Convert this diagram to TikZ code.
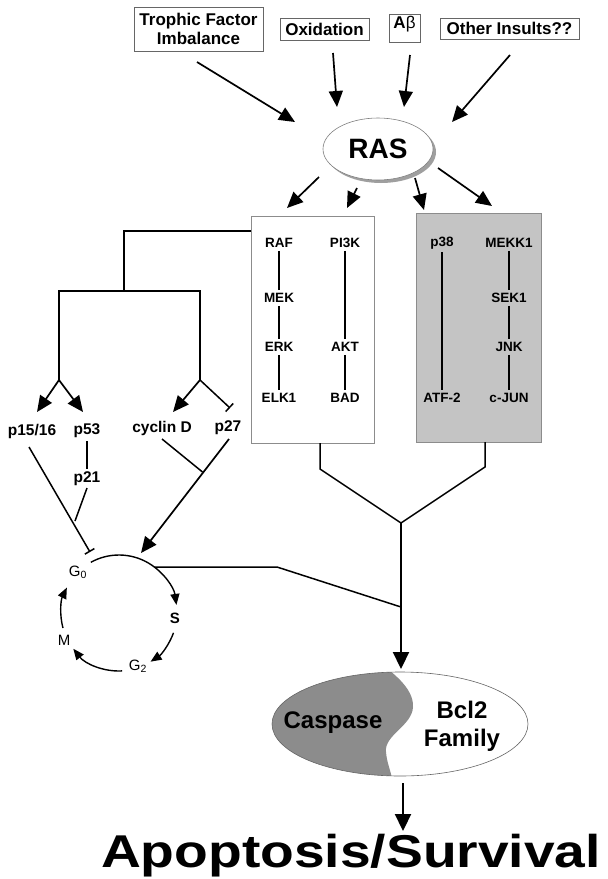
\documentclass[tikz,border=0pt]{standalone}
\usepackage{fontspec}
\usepackage{graphicx}
\setmainfont{Liberation Sans}
\usetikzlibrary{arrows.meta,shadows,shapes.geometric,calc}
\begin{document}
\begin{tikzpicture}[x=1pt,y=-1pt,
 every node/.style={inner sep=0pt},
 topbox/.style={draw=black!60, line width=0.8pt, font=\bfseries\fontsize{17}{19}\selectfont, align=center},
 klbl/.style={font=\bfseries\fontsize{13.5}{15}\selectfont, inner sep=3pt},
 clbl/.style={font=\bfseries\fontsize{15.5}{17}\selectfont, inner sep=3pt},
 cyc/.style={font=\fontsize{15}{17}\selectfont},
 bigarr/.style={line width=1.7pt, -{Triangle[length=16pt,width=14pt]}},
 ln/.style={line width=1.5pt},
 kln/.style={line width=1.4pt},
 cycarr/.style={line width=1.4pt, -{Triangle[length=11pt,width=9pt]}},
 inh/.style={line width=1.5pt, -{Bar[width=11pt,line width=1.5pt]}},
]
\useasboundingbox (0,0) rectangle (608,879);
\fill[white] (0,0) rectangle (608,879);

% top boxes
\node[topbox, minimum width=129pt, minimum height=44pt] (tfi) at (198.5,29) {Trophic Factor\\Imbalance};
\node[topbox, minimum width=89pt, minimum height=22pt] (oxi) at (324.5,29) {Oxidation};
\node[topbox, minimum width=31pt, minimum height=28pt] (abeta) at (404.5,28) {};
\node[font=\bfseries\fontsize{17}{19}\selectfont] (abetat) at (404.5,24) {A{\mdseries β}};
\node[topbox, minimum width=139pt, minimum height=21pt] (oth) at (509.5,28.5) {Other Insults??};

% RAS
\node[ellipse, draw=black!50, line width=0.6pt, fill=white, minimum width=110pt, minimum height=62pt,
  font=\bfseries\fontsize{28}{30}\selectfont,
  drop shadow={shadow xshift=3pt, shadow yshift=-3pt, fill=black!75}] (ras) at (378,149) {RAS};

\coordinate (i1s) at (197,62);  \coordinate (i1e) at (295,122);
\coordinate (i2s) at (333,53);  \coordinate (i2e) at (337,107);
\coordinate (i3s) at (410,55);  \coordinate (i3e) at (404,107);
\coordinate (i4s) at (510,55);  \coordinate (i4e) at (452,122);
\draw[bigarr] (i1s) -- (i1e);
\draw[bigarr] (i2s) -- (i2e);
\draw[bigarr] (i3s) -- (i3e);
\draw[bigarr] (i4s) -- (i4e);

\coordinate (o1s) at (319,177); \coordinate (o1e) at (287,208);
\coordinate (o2s) at (357,188); \coordinate (o2e) at (347,208);
\coordinate (o3s) at (415,178); \coordinate (o3e) at (424,210);
\coordinate (o4s) at (438,168); \coordinate (o4e) at (492,206);
\draw[bigarr] (o1s) -- (o1e);
\draw[bigarr] (o2s) -- (o2e);
\draw[bigarr] (o3s) -- (o3e);
\draw[bigarr] (o4s) -- (o4e);

% kinase boxes
\node[draw=black!45, line width=0.8pt, fill=white, minimum width=123pt, minimum height=227pt] (wbox) at (312.5,329.5) {};
\node[draw=black!45, line width=0.8pt, fill=black!23, minimum width=125pt, minimum height=229pt] (gbox) at (478.5,327.5) {};

\node[klbl] (raf) at (279,243) {RAF};
\node[klbl] (mek) at (279,298) {MEK};
\node[klbl] (erk) at (279,347) {ERK};
\node[klbl] (elk) at (279,398) {ELK1};
\node[klbl] (pi3k) at (345,243) {PI3K};
\node[klbl] (akt) at (345,347) {AKT};
\node[klbl] (bad) at (345,398) {BAD};
\node[klbl] (p38) at (442,243) {p38};
\node[klbl] (atf) at (442,398) {ATF-2};
\node[klbl] (mekk) at (509,243) {MEKK1};
\node[klbl] (sek) at (509,298) {SEK1};
\node[klbl] (jnk) at (509,347) {JNK};
\node[klbl] (cjun) at (509,398) {c-JUN};
\draw[kln] (raf) -- (mek);
\draw[kln] (mek) -- (erk);
\draw[kln] (erk) -- (elk);
\draw[kln] (pi3k) -- (akt);
\draw[kln] (akt) -- (bad);
\draw[kln] (p38) -- (atf);
\draw[kln] (mekk) -- (sek);
\draw[kln] (sek) -- (jnk);
\draw[kln] (jnk) -- (cjun);

% left tree
\coordinate (t0) at (251,231);
\coordinate (t1) at (124,291);
\coordinate (t2) at (59,380);
\coordinate (t3) at (200,291);
\coordinate (t4) at (200,380);
\draw[ln] (t0) -| (t1);
\draw[ln] (t2) |- (t3) -- (t4);
\coordinate (e15) at (37,412);
\coordinate (e53) at (83,412);
\coordinate (ecd) at (173,412);
\coordinate (e27) at (230,408);
\draw[bigarr] (t2) -- (e15);
\draw[bigarr] (t2) -- (e53);
\draw[bigarr] (t4) -- (ecd);
\draw[inh] (t4) -- (e27);

\node[clbl] (p1516) at (32,431) {p15/16};
\node[clbl] (p53) at (87,431) {p53};
\node[clbl] (cycd) at (162,428) {cyclin D};
\node[clbl] (p27) at (228,428) {p27};
\node[clbl] (p21) at (87,479) {p21};

\draw[ln] (p53) -- (p21);
\coordinate (q21a) at (87,488); \coordinate (q21b) at (75,521);
\draw[ln] (q21a) -- (q21b);
\coordinate (q15a) at (29,447); \coordinate (q15b) at (90,552);
\draw[inh] (q15a) -- (q15b);
\coordinate (qcda) at (162,439); \coordinate (qcdb) at (202.5,472);
\draw[ln] (qcda) -- (qcdb);
\coordinate (q27a) at (229,439); \coordinate (q27b) at (141,553);
\draw[bigarr] (q27a) -- (q27b);

% cell cycle
\coordinate (cc) at (119,613);
\draw[cycarr] ($(cc)+(-119:58)$) arc[start angle=-119, end angle=-8, radius=58];
\draw[cycarr] ($(cc)+(20:58)$) arc[start angle=20, end angle=57, radius=58];
\draw[cycarr] ($(cc)+(87:58)$) arc[start angle=87, end angle=142, radius=58];
\draw[cycarr] ($(cc)+(165:58)$) arc[start angle=165, end angle=206, radius=58];
\node[cyc] (g0) at (78,572) {G\textsubscript{0}};
\node[cyc, font=\bfseries\fontsize{15}{17}\selectfont] (s) at (175,618) {S};
\node[cyc] (g2) at (138,666) {G\textsubscript{2}};
\node[cyc] (m) at (64,640) {M};

% convergence
\coordinate (j0) at (401,523);
\coordinate (w1) at (320,443); \coordinate (w2) at (320,469);
\coordinate (g1) at (485,442); \coordinate (g2c) at (485,467);
\draw[ln] (w1) -- (w2) -- (j0) -- (g2c) -- (g1);
\coordinate (h0) at (155,567); \coordinate (h1) at (277,567); \coordinate (h2) at (401,607);
\draw[ln] (h0) -- (h1) -- (h2);
\coordinate (mainend) at (401,669);
\draw[line width=2.2pt, -{Triangle[length=17pt,width=16pt]}] (j0) -- (mainend);

% caspase / bcl2
\node[ellipse, minimum width=256pt, minimum height=104pt] (bcl) at (400,724) {};
\begin{scope}
\clip (400,724) ellipse [x radius=128, y radius=52];
\fill[black!45] (376,660) .. controls (392,672) and (414,688) .. (413,707) .. controls (412,726) and (384,735) .. (386,752) .. controls (387,765) and (392,772) .. (394,790) -- (260,790) -- (260,660) -- cycle;
\end{scope}
\draw[black!60, line width=0.6pt] (400,724) ellipse [x radius=128, y radius=52];
\node[font=\bfseries\fontsize{24}{26}\selectfont] (casp) at (333,723) {Caspase};
\node[font=\bfseries\fontsize{24}{28}\selectfont, align=center] (bclt) at (462,726) {Bcl2\\Family};

\coordinate (b0) at (403,783); \coordinate (b1) at (403,831);
\draw[line width=2.2pt, -{Triangle[length=17pt,width=16pt]}] (b0) -- (b1);
\node[font=\bfseries\fontsize{46}{50}\selectfont, anchor=base] (apo) at (351,867) {\scalebox{1.2}[1]{Apoptosis/Survival}};
\end{tikzpicture}
\end{document}
